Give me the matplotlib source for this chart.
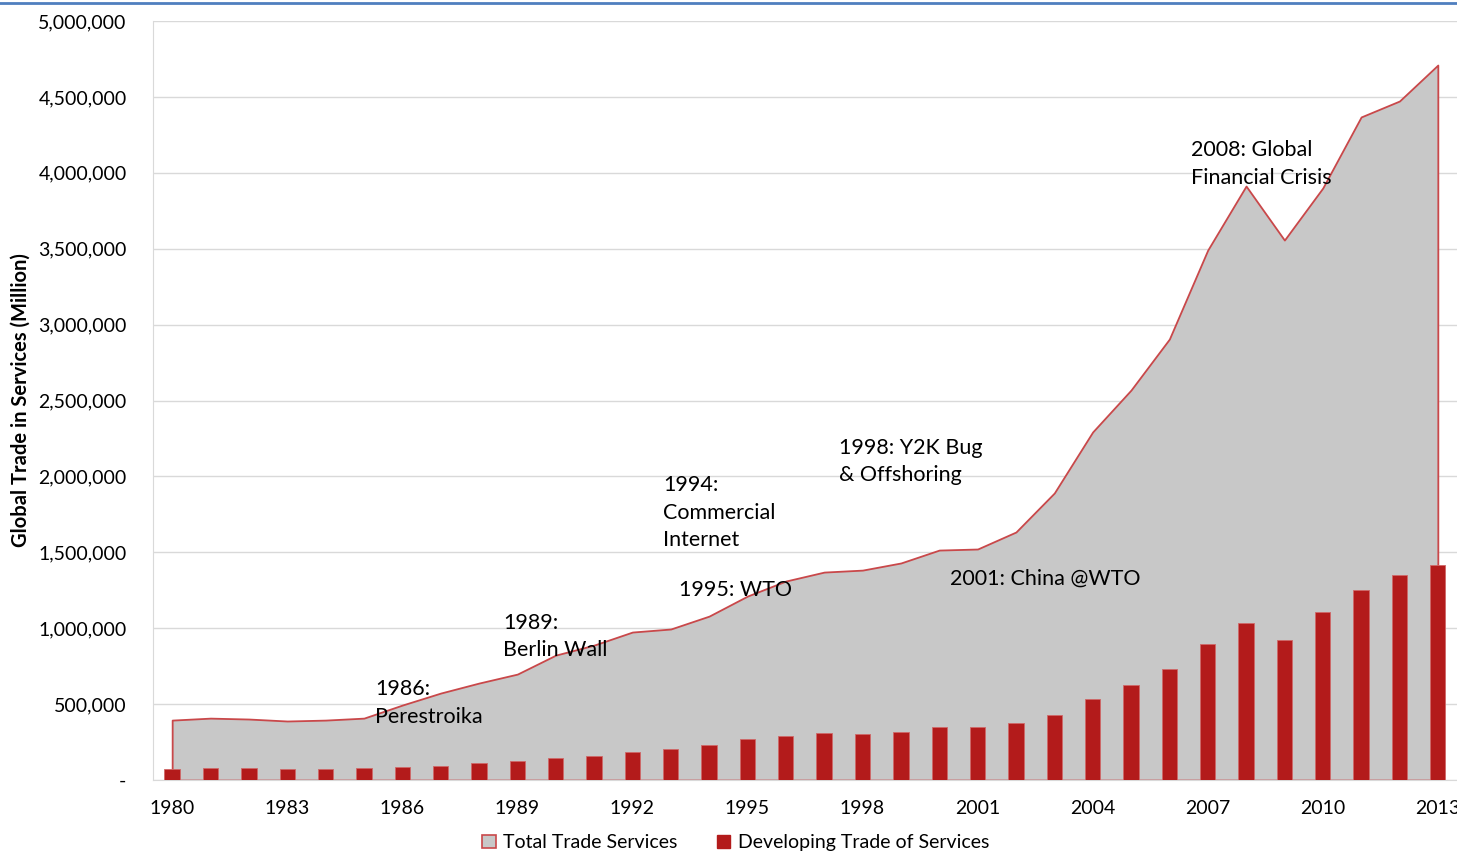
import numpy as np
import matplotlib.pyplot as plt
from matplotlib.patches import Patch
from matplotlib.lines import Line2D

plt.rcParams['font.family'] = ['Lato', 'DejaVu Sans']

years = list(range(1980, 2014))
total_trade = [395, 408, 402, 389, 395, 408, 494, 573, 639, 698, 823, 889,
               975, 995, 1080, 1212, 1311, 1370, 1383, 1430, 1515, 1522,
               1634, 1891, 2293, 2569, 2905, 3491, 3913, 3557, 3900, 4368,
               4473, 4710]
developing_trade = [72, 79, 77, 75, 75, 77, 84, 94, 112, 127, 147, 160,
                    184, 206, 233, 268, 288, 312, 305, 316, 349, 349,
                    375, 428, 534, 626, 729, 894, 1034, 924, 1105, 1250,
                    1348, 1416]
total_trade = [v * 1000 for v in total_trade]
developing_trade = [v * 1000 for v in developing_trade]

# annotation text, year position, value position
notes = [
    ("1986:\nPerestroika", 1985.29, 507000),
    ("1989:\nBerlin Wall", 1988.63, 945000),
    ("1994:\nCommercial\nInternet", 1992.80, 1762000),
    ("1995: WTO", 1993.22, 1252000),
    ("1998: Y2K Bug\n& Offshoring", 1997.39, 2101000),
    ("2001: China @WTO", 2000.28, 1324000),
    ("2008: Global\nFinancial Crisis", 2006.56, 4058000),
]

fig = plt.figure(figsize=(14.57, 8.61), dpi=100)
ax = fig.add_axes([0.105, 0.094, 0.895, 0.8816])

x = np.arange(len(years))
ax.fill_between(x, total_trade, 0, facecolor='#c8c8c8', edgecolor='#c9484a',
                linewidth=1.3, zorder=2)
ax.bar(x, developing_trade, width=0.4, color='#b31b1b', edgecolor='#d06868',
       linewidth=0.6, zorder=3)

for txt, yr, val in notes:
    ax.text(yr - 1980, val, txt, fontsize=15.5, ha='left', va='center',
            linespacing=1.45, color='black', zorder=4)

ax.set_xlim(-0.5, len(years) - 0.5)
ax.set_ylim(0, 5000000)
ax.set_xticks(x[::3])
ax.set_xticklabels([str(y) for y in years[::3]], fontsize=14)
yt = np.arange(0, 5000001, 500000)
ax.set_yticks(yt)
ax.set_yticklabels(['-'] + [f"{v:,}" for v in yt[1:]], fontsize=14)
ax.tick_params(axis='x', length=0, pad=14)
ax.tick_params(axis='y', length=0, pad=19)
ax.yaxis.grid(True, color='#d9d9d9', linewidth=1)
ax.set_axisbelow(True)
for s in ['top', 'right']:
    ax.spines[s].set_visible(False)
ax.spines['left'].set_color('#d9d9d9')
ax.spines['bottom'].set_color('#d9d9d9')
ax.set_ylabel('Global Trade in Services (Million)', fontsize=14.5,
              fontweight='bold')
ax.yaxis.set_label_coords(-0.094, 0.5)

handles = [Patch(facecolor='#c8c8c8', edgecolor='#c9484a', linewidth=1.2),
           Patch(facecolor='#b31b1b', edgecolor='#b31b1b')]
fig.legend(handles, ['Total Trade Services', 'Developing Trade of Services'],
           loc='center', bbox_to_anchor=(0.505, 0.021), ncol=2, frameon=False,
           fontsize=14, handlelength=0.7, handleheight=0.7,
           handletextpad=0.4, columnspacing=2.0)

fig.add_artist(Line2D([0, 1], [0.9965, 0.9965], color='#4f7fbf',
                      linewidth=2, transform=fig.transFigure))

fig.savefig('out.png', dpi=100)
